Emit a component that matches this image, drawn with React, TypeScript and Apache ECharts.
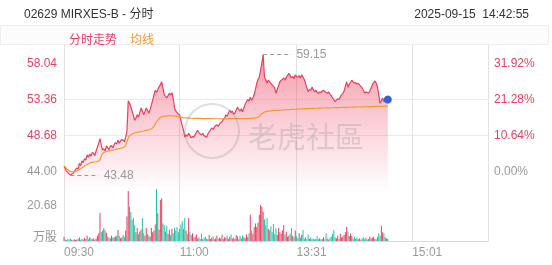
import React, { useEffect, useRef } from 'react';
import * as echarts from 'echarts';

const TITLE = '02629 MIRXES-B - 分时';
const TIMESTAMP = '2025-09-15  14:42:55';
const LEGEND_NAMES = ['分时走势', '均线'];
const WATERMARK = '老虎社區';
const VOLUME_UNIT = '万股';
const PREV_CLOSE = 44.0;
const PRICE_TICKS = [44.0, 48.68, 53.36, 58.04];
const PCT_TICKS = [0, 10.64, 21.28, 31.92];
const VOLUME_TICKS = [0, 20.68];
const X_LABEL_TIMES = ['09:30', '11:00', '13:31', '15:01'];
const PRICE_MIN = 41.92;
const PRICE_MAX = 60.38;
const VOLUME_MAX = 31.0;

const PRICE = [
  44.65, 44.30, 43.95, 43.80, 43.60, 43.48, 43.62, 43.70, 43.90, 44.20,
  44.40, 44.25, 45.00, 44.70, 45.30, 45.10, 45.60, 45.40, 46.10, 45.80,
  46.20, 45.90, 46.40, 46.30, 46.00, 46.60, 47.10, 47.60, 48.20, 47.40,
  46.70, 46.90, 46.60, 47.25, 47.00, 46.80, 47.20, 47.30, 47.00, 47.40,
  47.70, 47.50, 48.00, 47.60, 47.90, 48.10, 48.00, 47.80, 48.40, 49.20,
  53.14, 52.80, 52.36, 51.80, 51.20, 50.60, 50.90, 51.30, 51.00, 51.60,
  52.20, 51.80, 51.30, 51.70, 52.20, 51.90, 51.50, 52.00, 52.60, 53.20,
  53.90, 54.50, 54.20, 54.60, 54.96, 55.20, 55.60, 54.80, 53.90, 53.70,
  53.50, 53.80, 54.10, 53.90, 54.20, 53.40, 52.20, 51.80, 51.60, 51.40,
  51.30, 50.60, 49.90, 49.30, 48.40, 48.70, 48.50, 48.90, 48.60, 48.30,
  48.50, 48.40, 48.70, 49.00, 49.30, 49.00, 48.80, 48.70, 48.90, 48.60,
  48.50, 48.40, 48.80, 49.10, 49.30, 49.60, 49.40, 49.70, 49.90, 50.00,
  49.80, 50.10, 50.30, 50.40, 50.70, 50.90, 51.30, 51.10, 51.50, 51.90,
  51.60, 51.80, 51.40, 51.50, 51.90, 52.30, 52.00, 51.80, 52.10, 51.70,
  52.20, 52.70, 53.00, 53.30, 53.10, 53.60, 53.20, 53.50, 53.90, 54.60,
  55.40, 55.90, 56.20, 57.10, 58.00, 59.15, 56.20, 55.90, 55.40, 55.80,
  55.60, 55.40, 55.20, 55.00, 54.80, 54.10, 54.60, 55.10, 55.60, 55.80,
  55.90, 56.10, 55.80, 56.20, 56.40, 56.70, 56.40, 56.10, 56.30, 56.00,
  56.50, 56.30, 56.20, 56.40, 56.10, 56.50, 56.20, 55.90, 55.40, 54.80,
  54.30, 54.60, 54.50, 54.90, 54.60, 54.30, 54.50, 54.20, 54.10, 54.30,
  54.20, 54.40, 54.50, 54.30, 54.20, 54.10, 54.30, 54.00, 53.80, 53.50,
  53.30, 53.00, 53.20, 53.40, 53.30, 53.60, 53.90, 54.10, 54.40, 55.00,
  55.60, 54.90, 55.30, 55.50, 55.80, 55.60, 55.40, 55.50, 55.30, 55.40,
  55.20, 55.00, 54.80, 54.50, 54.10, 54.30, 54.20, 54.10, 54.40, 54.80,
  55.20, 55.50, 55.70, 55.40, 54.90, 53.90, 52.80, 53.10, 53.50, 53.00,
  53.40, 53.20, 53.30,
];

const AVG = [
  44.65, 44.50, 44.30, 44.15, 44.02, 43.95, 43.92, 43.90, 43.92, 43.96,
  44.02, 44.08, 44.20, 44.30, 44.42, 44.52, 44.64, 44.74, 44.86, 44.95,
  45.02, 45.08, 45.12, 45.15, 45.17, 45.19, 45.22, 45.30, 45.45, 45.95,
  46.25, 46.40, 46.48, 46.54, 46.58, 46.61, 46.64, 46.68, 46.72, 46.76,
  46.80, 46.84, 46.88, 46.92, 46.96, 47.00, 47.05, 47.12, 47.35, 47.85,
  48.30, 48.55, 48.70, 48.80, 48.88, 48.94, 48.98, 49.02, 49.06, 49.10,
  49.13, 49.17, 49.20, 49.24, 49.28, 49.32, 49.36, 49.42, 49.50, 49.60,
  49.80, 50.10, 50.40, 50.60, 50.80, 50.95, 51.05, 51.10, 51.12, 51.14,
  51.16, 51.17, 51.18, 51.18, 51.17, 51.16, 51.15, 51.13, 51.10, 51.07,
  51.04, 51.00, 50.97, 50.94, 50.92, 50.90, 50.89, 50.88, 50.87, 50.86,
  50.86, 50.85, 50.85, 50.84, 50.84, 50.83, 50.83, 50.82, 50.82, 50.82,
  50.81, 50.81, 50.81, 50.80, 50.80, 50.80, 50.80, 50.79, 50.79, 50.79,
  50.79, 50.79, 50.79, 50.79, 50.79, 50.79, 50.79, 50.80, 50.80, 50.80,
  50.80, 50.80, 50.80, 50.80, 50.80, 50.81, 50.81, 50.81, 50.81, 50.81,
  50.81, 50.81, 50.82, 50.82, 50.83, 50.84, 50.85, 50.86, 50.88, 50.90,
  50.93, 51.00, 51.12, 51.28, 51.45, 51.58, 51.66, 51.71, 51.75, 51.78,
  51.80, 51.82, 51.84, 51.86, 51.87, 51.88, 51.89, 51.90, 51.91, 51.92,
  51.93, 51.94, 51.95, 51.96, 51.97, 51.98, 51.99, 52.00, 52.01, 52.02,
  52.03, 52.04, 52.05, 52.06, 52.07, 52.08, 52.09, 52.10, 52.10, 52.11,
  52.12, 52.12, 52.13, 52.14, 52.14, 52.15, 52.16, 52.16, 52.17, 52.17,
  52.18, 52.18, 52.19, 52.19, 52.20, 52.20, 52.21, 52.21, 52.22, 52.22,
  52.23, 52.23, 52.24, 52.24, 52.25, 52.25, 52.26, 52.26, 52.27, 52.27,
  52.28, 52.28, 52.29, 52.29, 52.30, 52.30, 52.31, 52.31, 52.32, 52.32,
  52.33, 52.33, 52.34, 52.34, 52.35, 52.35, 52.36, 52.36, 52.37, 52.37,
  52.38, 52.38, 52.39, 52.39, 52.40, 52.40, 52.41, 52.41, 52.42, 52.42,
  52.43, 52.43, 52.44,
];

const VOLUME = [
  2.5, 0.8, 0.6, 1.2, 0.9, 1.5, 0.7, 0.5, 1.0, 0.6,
  0.8, 1.3, 2.0, 0.7, 1.1, 0.9, 1.8, 1.2, 3.2, 1.0,
  2.1, 1.4, 1.0, 1.6, 0.9, 1.5, 3.0, 4.5, 16.1, 5.2,
  6.0, 7.5, 6.2, 4.8, 2.5, 2.0, 1.4, 3.0, 1.8, 2.2,
  2.6, 3.0, 6.3, 2.8, 1.6, 2.2, 3.5, 2.4, 6.0, 14.0,
  28.7, 19.7, 16.8, 12.0, 13.2, 9.0, 5.0, 7.5, 4.0, 5.5,
  6.5, 13.2, 4.5, 3.0, 7.6, 4.0, 3.2, 2.5, 7.5, 5.0,
  6.0, 9.5, 29.9, 16.0, 6.5, 23.5, 24.5, 10.0, 9.2, 5.5,
  8.8, 4.0, 6.5, 3.5, 7.0, 4.5, 7.5, 6.0, 8.0, 5.0,
  7.0, 9.5, 11.5, 7.0, 13.2, 6.0, 4.0, 13.2, 5.0, 3.5,
  4.5, 2.0, 2.5, 3.8, 1.5, 2.2, 1.2, 4.2, 1.0, 1.8,
  2.4, 1.5, 1.0, 3.5, 1.2, 1.8, 2.6, 1.0, 1.4, 3.2,
  1.2, 2.0, 1.5, 3.6, 1.0, 2.2, 1.8, 3.0, 1.2, 2.5,
  3.8, 1.5, 2.0, 1.2, 3.4, 2.6, 1.0, 2.8, 1.6, 3.2,
  2.2, 1.6, 3.8, 2.5, 4.5, 15.0, 6.0, 4.2, 8.0, 10.0,
  8.0, 10.5, 15.0, 20.7, 19.7, 16.8, 12.5, 9.0, 13.2, 7.0,
  6.2, 8.5, 5.0, 9.8, 4.0, 7.2, 3.5, 7.5, 5.0, 4.2,
  6.0, 9.2, 3.8, 5.2, 2.5, 3.0, 4.2, 7.5, 3.0, 2.2,
  6.0, 2.8, 1.6, 4.5, 2.0, 3.6, 6.3, 1.5, 2.2, 1.0,
  3.8, 1.2, 2.0, 1.0, 1.5, 0.8, 1.2, 2.8, 1.0, 1.6,
  0.8, 1.2, 2.2, 1.0, 4.5, 1.4, 0.9, 1.8, 2.5, 4.0,
  6.3, 2.2, 1.6, 3.0, 1.2, 4.2, 2.0, 2.6, 3.5, 5.0,
  8.2, 5.3, 2.8, 4.2, 3.0, 1.5, 2.4, 1.2, 2.0, 1.0,
  1.6, 0.8, 1.4, 2.2, 1.0, 1.8, 0.9, 1.2, 2.6, 1.4,
  1.8, 2.4, 1.2, 1.0, 2.5, 4.5, 3.0, 8.8, 5.0, 4.3,
  2.2, 1.6, 1.2,
];

const RED = '#e9405f';
const ORANGE = '#f39a2e';
const TEAL = '#1fc4a4';
const GRAY_TEXT = '#999999';
const FONT = '"Liberation Sans", Arial, "Noto Sans CJK SC", sans-serif';

function buildTimes(): string[] {
  const out: string[] = [];
  const pad = (n: number) => String(n).padStart(2, '0');
  const add = (from: number, to: number) => {
    for (let t = from; t <= to; t++) out.push(pad(Math.floor(t / 60)) + ':' + pad(t % 60));
  };
  add(9 * 60 + 30, 12 * 60);
  add(13 * 60 + 1, 16 * 60);
  return out;
}

export default function App() {
  const ref = useRef<HTMLDivElement>(null);

  useEffect(() => {
    if (!ref.current) return;
    const chart = echarts.init(ref.current, undefined, { renderer: 'svg' });
    const times = buildTimes();
    const labelIdx = X_LABEL_TIMES.map((t) => times.indexOf(t));
    const splitIdx = [...labelIdx, times.length - 1];
    const last = PRICE.length - 1;
    const maxVal = Math.max(...PRICE);
    const minVal = Math.min(...PRICE);
    const maxIdx = PRICE.indexOf(maxVal);
    const minIdx = PRICE.indexOf(minVal);
    const pctMin = ((PRICE_MIN - PREV_CLOSE) / PREV_CLOSE) * 100;
    const pctMax = ((PRICE_MAX - PREV_CLOSE) / PREV_CLOSE) * 100;

    const volData = VOLUME.map((v, i) => {
      const prev = i === 0 ? PREV_CLOSE : PRICE[i - 1];
      const c = PRICE[i] > prev ? RED : PRICE[i] < prev ? TEAL : '#a09090';
      return { value: v, itemStyle: { color: c } };
    });

    const vSplit = { show: true, interval: (i: number) => splitIdx.includes(i), lineStyle: { color: '#e2e2e2', width: 1 } };

    chart.setOption({
      animation: false,
      textStyle: { fontFamily: FONT },
      title: [
        { text: TITLE, left: 19, top: 3, textStyle: { fontSize: 12, fontWeight: 'normal', color: '#333', fontFamily: FONT } },
        { text: TIMESTAMP, right: 18, top: 3, textStyle: { fontSize: 12, fontWeight: 'normal', color: '#333', fontFamily: FONT } },
      ],
      legend: {
        left: 59,
        top: 29,
        icon: 'none',
        itemWidth: 0,
        itemHeight: 12,
        itemGap: 8,
        selectedMode: false,
        data: [
          { name: LEGEND_NAMES[0], textStyle: { color: RED, fontSize: 12 } },
          { name: LEGEND_NAMES[1], textStyle: { color: ORANGE, fontSize: 12 } },
        ],
      },
      graphic: [
        { type: 'rect', z: -10, silent: true, shape: { x: 0.5, y: 25.5, width: 548, height: 19 }, style: { fill: '#fcfcfc', stroke: '#eeeeee', lineWidth: 1 } },
        { type: 'circle', z: 100, silent: true, shape: { cx: 212, cy: 131, r: 27 }, style: { fill: 'none', stroke: 'rgba(140,140,140,0.28)', lineWidth: 2 } },
        { type: 'text', z: 100, silent: true, x: 248, y: 135, style: { text: WATERMARK, fill: 'rgba(140,140,140,0.28)', font: '29px "Noto Sans CJK SC"', verticalAlign: 'middle', align: 'left' } },
      ],
      grid: [
        { left: 64, right: 64, top: 45, height: 142 },
        { left: 64, right: 64, top: 187, height: 54 },
      ],
      xAxis: [
        {
          type: 'category', gridIndex: 0, data: times, boundaryGap: false,
          axisLine: { show: false }, axisTick: { show: false }, axisLabel: { show: false },
          splitLine: vSplit,
        },
        {
          type: 'category', gridIndex: 1, data: times, boundaryGap: false,
          axisLine: { show: true, lineStyle: { color: '#dcdcdc' } }, axisTick: { show: false },
          axisLabel: { interval: (i: number) => labelIdx.includes(i), color: GRAY_TEXT, fontSize: 12, align: 'left', margin: 5 },
          splitLine: vSplit,
        },
      ],
      yAxis: [
        {
          type: 'value', gridIndex: 0, min: PRICE_MIN, max: PRICE_MAX, position: 'left',
          axisLine: { show: false }, axisTick: { show: false, customValues: PRICE_TICKS },
          axisLabel: {
            customValues: PRICE_TICKS, margin: 7, fontSize: 12,
            formatter: (v: number) => Number(v).toFixed(2),
            color: (v: any) => (Number(v) <= PREV_CLOSE ? GRAY_TEXT : RED),
          },
          splitLine: { show: true, showMinLine: false, showMaxLine: false, lineStyle: { color: '#ebebeb', width: 1 } },
        },
        {
          type: 'value', gridIndex: 0, min: pctMin, max: pctMax, position: 'right',
          axisLine: { show: false }, axisTick: { show: false, customValues: PCT_TICKS },
          axisLabel: {
            customValues: PCT_TICKS, margin: 6, fontSize: 12,
            formatter: (v: number) => Number(v).toFixed(2) + '%',
            color: (v: any) => (Number(v) <= 0 ? GRAY_TEXT : RED),
          },
          splitLine: { show: false },
        },
        {
          type: 'value', gridIndex: 1, min: 0, max: VOLUME_MAX, position: 'left',
          axisLine: { show: false }, axisTick: { show: false, customValues: VOLUME_TICKS },
          axisLabel: {
            customValues: VOLUME_TICKS, margin: 7, fontSize: 12, color: GRAY_TEXT,
            formatter: (v: number) => (Number(v) === 0 ? '{u|' + VOLUME_UNIT + '}' : Number(v).toFixed(2)),
            rich: { u: { fontSize: 12, color: GRAY_TEXT, padding: [0, 0, 8, 0] } },
          },
          splitLine: { show: true, showMinLine: false, showMaxLine: false, lineStyle: { color: '#e6e6e6', width: 1 } },
        },
      ],
      series: [
        {
          name: LEGEND_NAMES[0], type: 'line', xAxisIndex: 0, yAxisIndex: 0, data: PRICE,
          symbol: 'none', z: 3,
          lineStyle: { color: RED, width: 1.2 },
          itemStyle: { color: RED },
          areaStyle: {
            color: new echarts.graphic.LinearGradient(0, 0, 0, 1, [
              { offset: 0, color: 'rgba(238,70,100,0.75)' },
              { offset: 1, color: 'rgba(238,70,100,0.02)' },
            ]),
          },
          markLine: {
            silent: true, symbol: ['none', 'none'],
            lineStyle: { color: '#999', type: [4, 3], width: 1 },
            label: { show: true, position: 'end', formatter: '{b}', color: GRAY_TEXT, fontSize: 12, distance: 5 },
            data: [
              [{ name: maxVal.toFixed(2), coord: [times[maxIdx], maxVal] }, { coord: [times[maxIdx + 22], maxVal] }],
              [{ name: minVal.toFixed(2), coord: [times[minIdx], minVal] }, { coord: [times[minIdx + 22], minVal] }],
            ],
          },
          markPoint: {
            silent: true, symbol: 'circle', symbolSize: 8,
            itemStyle: { color: '#3761d9' }, label: { show: false },
            data: [{ coord: [times[last], PRICE[last]] }],
          },
        },
        {
          name: LEGEND_NAMES[1], type: 'line', xAxisIndex: 0, yAxisIndex: 0, data: AVG,
          symbol: 'none', z: 4,
          lineStyle: { color: ORANGE, width: 1.2 },
          itemStyle: { color: ORANGE },
        },
        {
          name: 'volume', type: 'bar', xAxisIndex: 1, yAxisIndex: 2, data: volData,
          barWidth: 1,
        },
      ],
    });
    return () => chart.dispose();
  }, []);

  return <div ref={ref} style={{ position: 'fixed', left: 0, top: 0, width: 552, height: 265 }} />;
}
